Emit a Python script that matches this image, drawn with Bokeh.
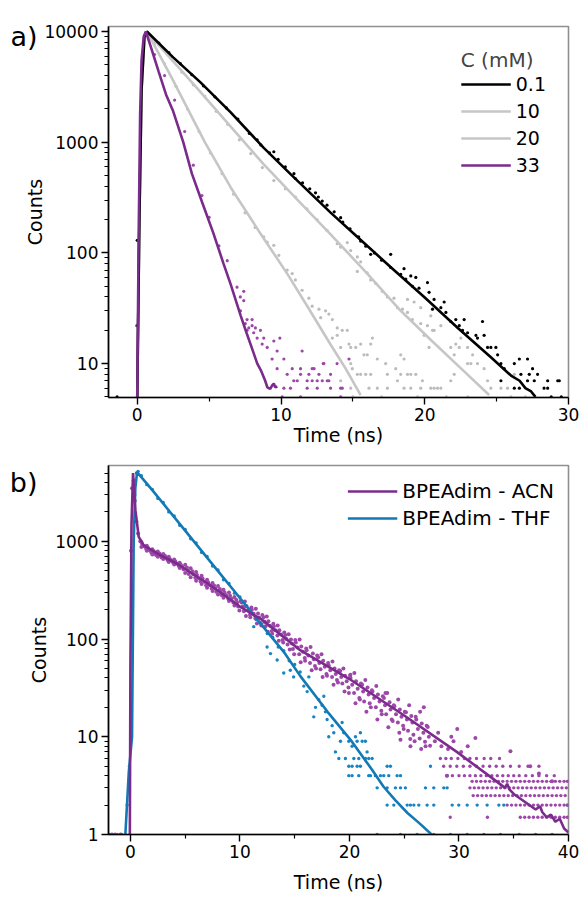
from bokeh.plotting import figure
from bokeh.layouts import column
from bokeh.models import (FixedTicker, PrintfTickFormatter, Range1d, Legend, LegendItem, LinearAxis)
from bokeh.embed import file_html
from bokeh.resources import INLINE

FONT = "DejaVu Sans"

# ---------------- panel a data (Time in ns, Counts) ----------------
a_black_fit_t = [0.0, 0.15, 0.3, 0.5, 0.67, 2.5, 4.4, 6.5, 8.8, 10.7, 13.45, 15.3, 17.6, 20.0, 22.3, 24.6, 26.0, 26.6, 27.0, 27.4, 27.7]
a_black_fit_c = [5, 200, 3000, 9000, 10000, 5840, 3470, 1860, 890, 510, 231, 140, 75, 39.5, 21, 11.4, 7.8, 7.0, 6.0, 5.6, 5]

a_g10_fit_t = [0.0, 0.15, 0.3, 0.5, 0.67, 2.5, 4.16, 6.5, 8.8, 11.0, 13.45, 16.0, 18.33, 20.5, 22.5, 24.48]
a_g10_fit_c = [5, 200, 3000, 9000, 10000, 5370, 3080, 1380, 630, 316, 147, 65, 30, 16, 9.1, 5.2]

a_g20_fit_t = [0.0, 0.15, 0.3, 0.5, 0.67, 1.5, 2.5, 3.6, 4.7, 6.5, 8.45, 10.43, 11.83, 13.5, 14.5, 15.54]
a_g20_fit_c = [5, 200, 3000, 9000, 10000, 6300, 3600, 1900, 1000, 390, 158, 65, 33, 14.5, 9, 5.2]

a_p33_fit_t = [0.0, 0.1, 0.2, 0.3, 0.45, 0.6, 1.0, 1.5, 2.0, 2.5, 3.2, 3.8, 4.5, 5.3, 6.0, 6.5, 7.2, 7.6, 8.0, 8.35, 8.6, 8.9, 9.05, 9.25, 9.4, 9.5, 9.6, 9.75]
a_p33_fit_c = [5, 150, 1800, 5500, 9000, 10000, 6900, 4300, 2700, 1900, 1000, 520, 290, 150, 80, 52, 27, 19, 13.5, 10, 8.7, 7, 6.1, 5.9, 6.4, 6.6, 6.1, 6.2]

a_black_dots = [(0.0, 130), (-0.02, 22), (-1.4, 5),
    (1.5, 7870), (2.2, 6440), (3.0, 5120), (3.8, 4070), (4.6, 3230), (5.4, 2570), (6.2, 2040), (7.0, 1620),
    (7.8, 1200), (8.34, 1050), (8.6, 946), (9.2, 800), (9.5, 820), (9.8, 700), (10.3, 600), (10.9, 520),
    (11.0, 470), (11.5, 430), (12.0, 380), (12.4, 349), (12.6, 320), (12.87, 294), (13.2, 270), (13.7, 235),
    (14.15, 208), (14.3, 190), (14.8, 165), (15.4, 140), (15.54, 128), (15.9, 115), (16.24, 97), (16.5, 100),
    (17.0, 86), (17.63, 74), (17.63, 97), (18.33, 64), (18.56, 72), (18.68, 58), (19.03, 62), (19.38, 60),
    (19.15, 50), (19.6, 48), (20.19, 54), (20.3, 44), (20.65, 38), (20.54, 31), (21.12, 32), (21.35, 36),
    (21.47, 29), (21.81, 24), (22.16, 25), (22.4, 22), (22.74, 25), (22.63, 20), (22.98, 19), (23.56, 18),
    (23.67, 17), (24.02, 24), (24.13, 18), (24.37, 14), (24.6, 14), (25.07, 12), (24.95, 14), (25.3, 10),
    (25.53, 9), (26.23, 10), (26.58, 11), (26.69, 8), (27.15, 11), (27.27, 8), (27.5, 9), (27.62, 7),
    (27.15, 7), (27.85, 8), (26.58, 6), (28.55, 6), (29.36, 7), (25.3, 7), (26.23, 6), (28.3, 6), (28.55, 7),
    (29.25, 7), (28.8, 5), (29.5, 5)]

a_g10_dots = [(1.5, 7600), (2.3, 5800), (3.1, 4300), (3.9, 3300), (4.7, 2600), (5.5, 1900), (6.3, 1450),
    (7.1, 1050), (7.9, 790), (8.7, 590), (9.5, 450), (10.3, 380), (11.0, 320), (11.8, 250), (12.5, 200),
    (13.2, 160), (13.91, 121), (14.15, 113), (14.61, 124), (14.85, 105), (15.31, 92), (15.54, 83), (15.31, 68),
    (16.0, 66), (16.24, 57), (16.59, 53), (17.05, 45), (17.4, 40), (17.86, 39), (18.1, 32), (18.45, 31),
    (18.8, 29), (19.14, 25), (19.72, 23), (20.19, 22), (20.54, 20), (18.33, 12), (19.03, 8), (19.38, 8),
    (19.72, 6), (20.42, 6), (20.89, 6), (21.12, 6), (21.81, 7), (22.05, 8), (22.98, 10), (23.21, 10),
    (23.33, 12), (24.13, 9), (24.37, 7), (24.6, 6), (25.3, 6), (25.76, 6), (26.23, 8), (21.81, 14),
    (22.16, 15), (22.4, 14), (22.51, 17), (20.65, 20), (21.12, 22), (20.42, 27), (19.72, 32), (19.26, 36),
    (18.8, 38), (22.98, 14), (23.67, 10), (22.05, 12), (26.0, 5), (27.0, 5), (23.0, 5), (21.5, 5)]

a_g20_dots = [(1.2, 7800), (1.9, 5100), (2.7, 3200), (3.5, 2000), (4.3, 1250), (5.1, 800), (5.9, 520),
    (6.7, 340), (7.5, 230), (8.2, 170), (8.8, 140), (9.04, 125), (9.5, 117), (9.85, 95), (10.43, 70),
    (10.78, 65), (11.0, 57), (11.47, 46), (11.94, 39), (12.17, 33), (12.64, 31), (13.1, 30), (13.33, 28),
    (12.76, 26), (13.57, 25), (13.91, 21), (14.26, 20), (14.61, 20), (13.91, 18), (13.57, 17), (14.73, 15),
    (14.15, 14), (14.85, 14), (15.2, 14), (15.54, 15), (16.36, 17), (16.24, 15), (15.77, 12), (16.0, 12),
    (14.85, 10), (14.96, 9), (15.31, 8), (15.54, 8), (15.89, 8), (16.24, 8), (16.7, 11), (17.28, 10),
    (17.98, 9), (17.4, 8), (18.33, 8), (18.8, 8), (14.15, 7), (18.1, 7), (19.84, 7), (14.85, 6), (16.12, 6),
    (16.7, 6), (17.4, 6), (18.56, 6), (19.03, 6), (20.65, 6), (20.3, 14), (19.96, 18), (18.56, 11),
    (15.0, 5), (17.0, 5), (19.5, 5)]

a_p33_dots = [(1.2, 6200), (1.9, 4000), (2.6, 2400), (3.3, 1250), (3.9, 620), (4.5, 330), (5.0, 210),
    (5.68, 116), (6.26, 85), (6.94, 49), (7.17, 40), (7.41, 37), (7.52, 23), (7.76, 21), (8.1, 19),
    (7.41, 45), (7.18, 30), (7.64, 25), (7.99, 25), (7.99, 22), (8.22, 21), (7.64, 20), (8.57, 20),
    (8.34, 17), (8.80, 17), (8.69, 15), (9.50, 16), (9.92, 17), (9.04, 14), (9.73, 13), (10.2, 11),
    (9.38, 11), (11.47, 13), (9.73, 9), (10.78, 9), (11.36, 9), (12.17, 9), (12.94, 10), (10.43, 8),
    (11.36, 8), (11.94, 8), (12.64, 8), (13.45, 8), (10.89, 7), (11.82, 7), (12.52, 7), (12.87, 7),
    (13.33, 7), (10.2, 6), (10.66, 6), (11.82, 6), (12.52, 6), (13.45, 6), (14.26, 6), (14.73, 11),
    (11.36, 5), (10.08, 5), (14.15, 5), (11.13, 7), (12.17, 7), (13.22, 7), (14.15, 6), (12.98, 10),
    (13.9, 10), (12.3, 9)]

# ---------------- panel b data ----------------
b_acn_fit_t = [-0.05, 0.0, 0.1, 0.24, 0.46, 0.76, 1.22, 2.74, 4.26, 7.3, 10.0, 12.0, 15.5, 20.0, 25.0, 29.8,
               33.0, 34.2, 34.4, 34.6, 35.0, 37.0, 37.4, 37.6, 38.0, 38.4, 38.8, 39.2, 39.6, 40.0]
b_acn_fit_c = [1, 50, 1500, 5000, 2070, 1110, 910, 720, 590, 355, 215, 158, 77, 39, 16.5, 7.0,
               3.8, 3.0, 3.3, 2.9, 2.6, 1.8, 1.95, 1.7, 1.5, 1.6, 1.35, 1.45, 1.15, 1.05]

b_thf_fit_t = [-0.46, -0.15, 0.15, 0.3, 0.45, 0.61, 2.0, 4.0, 6.0, 8.0, 10.0, 12.0, 14.0, 15.5, 18.0, 20.1,
               22.0, 23.1, 24.2, 25.3, 26.4, 27.5]
b_thf_fit_c = [1, 4.3, 10, 1000, 3500, 5100, 3340, 1770, 935, 495, 263, 139, 74, 42, 18, 9.3,
               4.7, 3.1, 2.24, 1.66, 1.3, 1.0]

b_thf_dots = [(-1.9, 1), (-1.6, 1), (-1.2, 1), (-0.8, 1), (-0.3, 2), (-0.1, 5), (0.4, 3000), (0.55, 5000),
    (0.7, 5200), (1.0, 4700), (1.5, 3800), (2.0, 3400), (2.5, 2750), (3.0, 2500), (3.5, 2000), (4.0, 1820),
    (4.5, 1460), (5.0, 1320), (5.5, 1060), (6.0, 960), (6.5, 770), (7.0, 700), (7.5, 560), (8.0, 510),
    (8.5, 405), (9.0, 370), (9.5, 295), (10.0, 270), (10.5, 215), (11.0, 196), (11.26, 134), (11.5, 158),
    (12.0, 143), (12.48, 83), (12.5, 114), (12.79, 71), (13.0, 104), (13.4, 61), (13.5, 83), (14.0, 45),
    (14.0, 76), (14.5, 60), (14.6, 48), (14.9, 41), (15.0, 55), (15.5, 46), (15.83, 33), (16.14, 29),
    (16.29, 41), (16.74, 16), (16.9, 20), (17.2, 24), (17.5, 21), (17.66, 26), (17.81, 18), (17.96, 15),
    (18.11, 10), (18.42, 13), (18.57, 11), (18.72, 7), (19.18, 9), (19.33, 14), (19.48, 11), (19.94, 9),
    (20.24, 8), (20.55, 10), (20.7, 9), (21.0, 11), (21.16, 9), (21.46, 9), (21.61, 7), (19.03, 6),
    (19.63, 6), (20.4, 6), (20.85, 6), (21.46, 6), (21.76, 6), (22.07, 6), (19.94, 5), (20.24, 5), (20.7, 5),
    (21.0, 5), (23.44, 5), (23.74, 5), (27.4, 5), (19.94, 4), (20.24, 4), (20.85, 4), (21.76, 4), (21.92, 4),
    (22.37, 4), (22.83, 4), (23.13, 4), (23.59, 4), (24.35, 4), (24.66, 4), (28.92, 4), (22.53, 3),
    (23.44, 3), (24.2, 3), (24.66, 3), (25.11, 3), (26.94, 3), (27.7, 3), (28.61, 3), (28.92, 3),
    (23.44, 2), (24.05, 2), (25.27, 2), (25.57, 2), (25.88, 2), (26.33, 2), (27.09, 2), (27.7, 2),
    (29.38, 2), (29.98, 2), (30.75, 2), (31.66, 2), (32.57, 2), (33.64, 2), (34.09, 2), (39.88, 2),
    (22.53, 1), (24.66, 1), (26.18, 1), (27.7, 1), (29.22, 1), (30.75, 1), (32.27, 1), (33.79, 1),
    (35.5, 1), (37.0, 1), (38.5, 1)]

b_acn_dots = [(-1.7, 1), (-1.4, 1), (-0.9, 1), (0.05, 800), (0.15, 3500), (0.3, 4200), (0.4, 2600),
    (0.55, 1600), (0.7, 1200), (0.9, 1000),
    (1.0, 985), (1.0, 875), (1.25, 890), (1.5, 900), (1.5, 800), (1.75, 810), (2.0, 830), (2.0, 735),
    (2.25, 760), (2.5, 785), (2.5, 695), (2.75, 720), (3.0, 740), (3.0, 660), (3.25, 680), (3.5, 695),
    (3.5, 615), (3.75, 635), (4.0, 650), (4.0, 580), (4.25, 590), (4.5, 605), (4.5, 535), (4.75, 550),
    (5.0, 575), (5.0, 475), (5.25, 500), (5.5, 530), (5.5, 430), (5.75, 460), (6.0, 485), (6.0, 395),
    (6.25, 420), (6.5, 445), (6.5, 365), (6.75, 385), (7.0, 405), (7.0, 335), (7.25, 355), (7.5, 375),
    (7.5, 310), (7.75, 330), (8.0, 350), (8.0, 285), (8.25, 305), (8.5, 320), (8.5, 265), (8.75, 280),
    (9.0, 300), (9.0, 245), (9.25, 258), (9.5, 270), (9.5, 220), (9.75, 235),
    (10.05, 245), (9.95, 196), (10.25, 215), (10.45, 242), (10.55, 172), (10.75, 198), (11.05, 210),
    (10.95, 167), (11.25, 182), (11.45, 204), (11.55, 144), (11.75, 166), (12.05, 176), (11.95, 138),
    (12.25, 150), (12.45, 170), (12.55, 119), (12.75, 137), (13.05, 143), (12.95, 113), (13.25, 123),
    (13.45, 138), (13.55, 96), (13.75, 111), (14.05, 117), (13.95, 92), (14.25, 100), (14.45, 112),
    (14.55, 78), (14.75, 90), (15.05, 98), (14.95, 70), (15.25, 82), (15.45, 99), (15.55, 58), (15.75, 74),
    (16.05, 80), (15.95, 60), (16.25, 68), (16.45, 83), (16.55, 48), (16.75, 62), (17.05, 68), (16.95, 50),
    (17.25, 57), (17.45, 70), (17.55, 41), (17.75, 52), (18.05, 57), (17.95, 42), (18.25, 48), (18.45, 59),
    (18.55, 34), (18.75, 44), (19.05, 48), (18.95, 36), (19.25, 41), (19.45, 50), (19.55, 29), (19.75, 37),
    (20.05, 42), (19.95, 28), (20.25, 34), (20.45, 45), (20.55, 22), (20.75, 31), (21.05, 35), (20.95, 24),
    (21.25, 29), (21.45, 38), (21.55, 18), (21.75, 27), (22.05, 30), (21.95, 20), (22.25, 25), (22.45, 33),
    (22.55, 15), (22.75, 23), (23.05, 26), (22.95, 17), (23.25, 21), (23.45, 28), (23.55, 12.5),
    (23.75, 19), (24.05, 21), (23.95, 14.5), (24.25, 17), (24.45, 24), (24.55, 11), (24.75, 16),
    (25.05, 18), (24.95, 12), (25.25, 15), (25.45, 21), (25.55, 9.5), (25.75, 14), (26.05, 16), (25.95, 9),
    (26.25, 12), (26.45, 18), (26.55, 7.5), (26.75, 11), (27.05, 13), (26.95, 8), (27.25, 10),
    (20.09, 43), (23.29, 28), (26.79, 20), (29.84, 12), (31.5, 9.7),
    (34.7, 7.1), (36.5, 5), (37.3, 4.2), (38.5, 3.5), (24.66, 9.3), (25.57, 8), (28.9, 4), (27.8, 9),
    (28.4, 8), (29.0, 7.5), (29.5, 9), (30.2, 7), (30.8, 8), (28.1, 11), (29.3, 10)]

# second pass over the ACN band (points lying between the band edges)
b_acn_band = [(1.07, 937), (1.43, 839), (1.6, 858), (1.91, 768), (2.14, 793), (2.33, 723), (2.66, 752),
    (2.84, 684), (3.15, 710), (3.41, 642), (3.58, 664), (3.9, 602), (4.1, 622), (4.42, 560), (4.6, 576),
    (4.85, 517), (5.16, 540), (5.33, 462), (5.66, 494), (5.92, 423), (6.08, 453), (6.4, 389), (6.59, 416),
    (6.91, 356), (7.1, 381), (7.42, 329), (7.64, 353), (7.84, 304), (8.17, 326), (8.35, 280), (8.6, 300),
    (8.93, 259), (9.1, 277), (9.4, 236), (9.66, 252), (9.83, 215), (10.15, 236), (10.36, 192),
    (10.6, 218), (10.92, 177), (11.09, 200), (11.41, 162), (11.65, 183), (11.85, 147), (12.16, 167),
    (12.34, 135), (12.6, 152), (12.91, 121), (13.1, 135), (13.42, 109), (13.6, 123), (13.9, 98),
    (14.15, 110), (14.35, 88), (14.66, 99), (14.84, 79), (15.1, 92), (15.41, 70), (15.6, 84), (15.92, 64),
    (16.09, 77), (16.4, 57), (16.66, 71), (16.85, 53), (17.15, 65), (17.36, 49), (17.6, 60), (17.9, 44),
    (18.1, 54), (18.41, 41), (18.64, 50), (18.86, 38), (19.16, 47), (19.35, 35), (19.6, 42), (19.91, 32),
    (20.1, 40), (20.42, 28), (20.6, 37), (20.9, 25), (21.16, 34), (21.34, 23), (21.65, 32), (21.85, 22),
    (22.1, 29), (22.41, 20), (22.6, 27), (22.91, 18.5), (23.15, 25), (23.35, 17), (23.66, 22.5),
    (23.86, 15), (24.1, 20.5), (24.42, 14), (24.6, 19), (24.9, 13), (25.16, 17.8), (25.35, 11.5),
    (25.65, 16.3), (25.84, 10.5), (26.1, 15), (26.41, 9.6), (26.6, 13.7), (26.9, 8.9), (27.15, 12.6),
    (27.36, 8.1)]

# discrete count rows of the ACN trace (times at each count level)
acn_row_6 = [28.3, 28.8, 29.3, 29.9, 30.5, 31.0, 31.6, 32.3, 32.9, 33.7]
acn_row_5 = [28.6, 29.2, 29.8, 30.4, 31.0, 31.6, 32.2, 32.8, 33.4, 34.0, 34.7, 35.5, 36.3, 37.3]
acn_row_4 = [28.9, 29.4, 30.0, 30.5, 31.0, 31.5, 32.0, 32.5, 33.0, 33.5, 34.0, 34.5, 35.0, 35.5, 36.1, 36.7, 37.3, 38.0, 38.7]
acn_row_35 = [31.2, 31.6, 32.0, 32.4, 32.8, 33.2, 33.6, 34.0, 34.4, 34.8, 35.2, 35.6, 36.0, 36.4, 36.8, 37.2, 37.6, 38.0, 38.4, 38.8, 39.2, 39.6, 39.9]
acn_row_3 = [31.0, 31.4, 31.8, 32.2, 32.6, 33.0, 33.4, 33.8, 34.2, 34.6, 35.0, 35.4, 35.8, 36.2, 36.6, 37.0, 37.4, 37.8, 38.2, 38.6, 39.0, 39.4, 39.8]
acn_row_25 = [31.3, 31.7, 32.1, 32.5, 32.9, 33.3, 33.7, 34.1, 34.5, 34.9, 35.3, 35.7, 36.1, 36.5, 36.9, 37.3, 37.7, 38.1, 38.5, 38.9, 39.3, 39.7]
acn_row_2 = [34.4, 34.8, 35.2, 35.6, 36.0, 36.4, 36.8, 37.2, 37.6, 38.0, 38.4, 38.8, 39.2, 39.6, 39.9]
acn_row_15 = [29.2, 32.6, 35.6, 36.0, 36.4, 36.8, 37.2, 37.6, 38.0, 38.4, 38.8, 39.2, 39.6, 39.9]
acn_rows = [(6, acn_row_6), (5, acn_row_5), (4, acn_row_4), (3.5, acn_row_35), (3, acn_row_3),
            (2.5, acn_row_25), (2, acn_row_2), (1.5, acn_row_15)]

legend_a_labels = ["0.1", "10", "20", "33"]
legend_b_labels = ["BPEAdim - ACN", "BPEAdim - THF"]
panel_tags = ["a)", "b)"]
y_major_a = [10, 100, 1000, 10000]
y_major_b = [1, 10, 100, 1000]

BLACK = "#000000"
GRAY_LINE = "#c6c6c6"
GRAY_DOT = "#bcbcbc"
PURPLE_LINE = "#7a2b8b"
PURPLE_DOT = "#9d48a9"
BLUE_LINE = "#1279b5"
BLUE_DOT = "#1784c3"


def minor_log(lo_dec, hi_dec, top):
    out = []
    for d in range(lo_dec, hi_dec + 1):
        for m in range(2, 10):
            v = m * 10 ** d
            if v <= top:
                out.append(v)
    return out


def make_fig(xr, yr, h, top, bottom, xmaj, xmin_, ymaj, ymin_):
    p = figure(width=581, height=h, x_range=Range1d(*xr), y_range=Range1d(*yr), y_axis_type="log",
               output_backend="svg", toolbar_location=None, min_border_left=108, min_border_right=13,
               min_border_top=top, min_border_bottom=bottom)
    p.xgrid.visible = False
    p.ygrid.visible = False
    p.outline_line_color = "#8f8f8f"
    p.outline_line_width = 1.6
    p.background_fill_color = "white"
    p.border_fill_color = "white"
    p.xaxis.ticker = FixedTicker(ticks=xmaj, minor_ticks=xmin_)
    p.yaxis.ticker = FixedTicker(ticks=ymaj, minor_ticks=ymin_)
    p.yaxis.formatter = PrintfTickFormatter(format="%d")
    for ax in (p.xaxis[0], p.yaxis[0]):
        ax.axis_line_width = 1.6
        ax.axis_line_color = "black"
        ax.major_tick_out = 7
        ax.major_tick_in = 0
        ax.minor_tick_out = 4
        ax.minor_tick_in = 0
        ax.major_tick_line_width = 1.4
        ax.minor_tick_line_width = 1.2
        ax.major_tick_line_color = "black"
        ax.minor_tick_line_color = "black"
        ax.major_label_text_font = FONT
        ax.major_label_text_font_size = "17px"
        ax.major_label_text_color = "black"
        ax.axis_label_text_font = FONT
        ax.axis_label_text_font_size = "19px"
        ax.axis_label_text_font_style = "normal"
        ax.axis_label_text_color = "black"
        ax.major_label_standoff = 3
    p.xaxis.axis_label = "Time (ns)"
    p.yaxis.axis_label = "Counts"
    return p


def add_tag(p, text, y_at, standoff):
    # panel letter, drawn as the single label of a bare extra axis on the left
    ax = LinearAxis(ticker=FixedTicker(ticks=[y_at]), formatter=PrintfTickFormatter(format=text),
                    axis_line_color=None, major_tick_line_color=None, minor_tick_line_color=None,
                    major_tick_out=0, major_tick_in=0, minor_tick_out=0, minor_tick_in=0,
                    major_label_standoff=standoff, major_label_text_font=FONT,
                    major_label_text_font_size="27px", major_label_text_color="black")
    p.add_layout(ax, "left")


def dots(p, pairs, color, size=3.2):
    ts = [q[0] for q in pairs]
    cs = [q[1] for q in pairs]
    p.scatter(ts, cs, marker="circle", size=size, fill_color=color, line_color=None)


# ---------------- panel a ----------------
pa = make_fig((-2, 30), (4.94, 11100), 450, 26, 53, [0, 10, 20, 30], [5, 15, 25],
              y_major_a, minor_log(0, 3, 11000)[3:])
pa.xaxis.axis_label_standoff = 0
pa.yaxis.axis_label_standoff = -5

dots(pa, a_g10_dots, GRAY_DOT)
dots(pa, a_g20_dots, GRAY_DOT)
dots(pa, a_black_dots, BLACK)
dots(pa, a_p33_dots, PURPLE_DOT)
r_g20 = pa.line(a_g20_fit_t, a_g20_fit_c, line_color=GRAY_LINE, line_width=2.6)
r_g10 = pa.line(a_g10_fit_t, a_g10_fit_c, line_color=GRAY_LINE, line_width=2.6)
r_blk = pa.line(a_black_fit_t, a_black_fit_c, line_color=BLACK, line_width=2.6)
r_p33 = pa.line(a_p33_fit_t, a_p33_fit_c, line_color=PURPLE_LINE, line_width=2.6)

leg_a = Legend(items=[LegendItem(label=legend_a_labels[0], renderers=[r_blk]),
                      LegendItem(label=legend_a_labels[1], renderers=[r_g10]),
                      LegendItem(label=legend_a_labels[2], renderers=[r_g20]),
                      LegendItem(label=legend_a_labels[3], renderers=[r_p33])],
               location="top_right", title="C (mM)")
pa.add_layout(leg_a)
add_tag(pa, panel_tags[0], 9100, -16)

# ---------------- panel b ----------------
pb = make_fig((-2, 40), (1, 5970), 447, 15, 63, [0, 10, 20, 30, 40], [5, 15, 25, 35],
              y_major_b, minor_log(0, 3, 5970))
pb.xaxis.axis_label_standoff = 10
pb.yaxis.axis_label_standoff = 2

dots(pb, b_thf_dots, BLUE_DOT, 3.4)
row_pairs = []
for lvl, ts in acn_rows:
    row_pairs.extend([(t, lvl) for t in ts])
dots(pb, row_pairs, PURPLE_DOT, 3.4)
dots(pb, b_acn_dots, PURPLE_DOT, 4)
dots(pb, b_acn_band, PURPLE_DOT, 4)
r_thf = pb.line(b_thf_fit_t, b_thf_fit_c, line_color=BLUE_LINE, line_width=2.6)
r_acn = pb.line(b_acn_fit_t, b_acn_fit_c, line_color=PURPLE_LINE, line_width=2.6)

leg_b = Legend(items=[LegendItem(label=legend_b_labels[0], renderers=[r_acn]),
                      LegendItem(label=legend_b_labels[1], renderers=[r_thf])],
               location="top_right")
pb.add_layout(leg_b)
add_tag(pb, panel_tags[1], 3955, -12)

for lg, fs in ((leg_a, "19px"), (leg_b, "20px")):
    lg.label_text_font = FONT
    lg.label_text_font_size = fs
    lg.label_text_color = "black"
    lg.title_text_font = FONT
    lg.title_text_font_size = "20px"
    lg.title_text_font_style = "normal"
    lg.border_line_alpha = 0
    lg.background_fill_alpha = 0
    lg.glyph_width = 50
    lg.glyph_height = 20
    lg.label_height = 20
    lg.label_standoff = 5
    lg.margin = 0
leg_a.padding = 22
leg_a.spacing = 5
leg_a.title_standoff = 1
leg_b.padding = 14
leg_b.spacing = 3

layout = column(pa, pb, spacing=0)
open("out.html", "w").write(file_html(layout, INLINE))
